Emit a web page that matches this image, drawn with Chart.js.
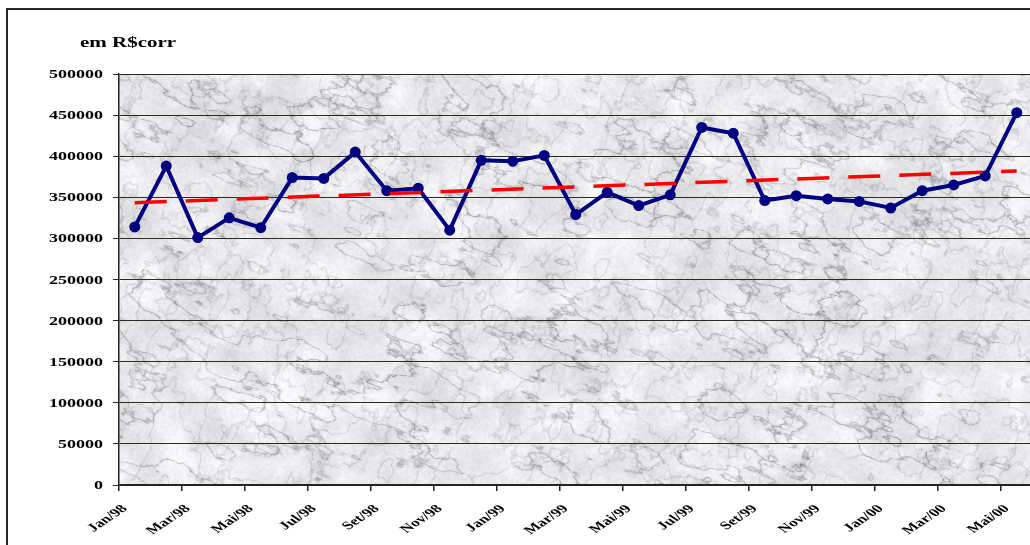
<!DOCTYPE html>
<html>
<head>
<meta charset="utf-8">
<script src="https://cdn.jsdelivr.net/npm/chart.js@4.4.1/dist/chart.umd.min.js"></script>
<style>
  html, body { margin: 0; padding: 0; background: #ffffff; overflow: hidden; }
  #wrap { width: 1038px; height: 545px; position: relative; }
</style>
</head>
<body>
<div id="wrap"><canvas id="c"></canvas></div>
<script>
// Monthly categories, Jan/98 .. Mai/00
const months = [
  'Jan/98','Fev/98','Mar/98','Abr/98','Mai/98','Jun/98','Jul/98','Ago/98','Set/98','Out/98','Nov/98','Dez/98',
  'Jan/99','Fev/99','Mar/99','Abr/99','Mai/99','Jun/99','Jul/99','Ago/99','Set/99','Out/99','Nov/99','Dez/99',
  'Jan/00','Fev/00','Mar/00','Abr/00','Mai/00'
];
// Monthly values, em R$ correntes
const valores = [
  314000, 388000, 301000, 325000, 313000, 374000, 373000, 405000, 358000, 361000, 310000, 395000,
  394000, 401000, 329000, 356000, 340000, 353000, 435000, 428000, 346000, 352000, 348000, 345000,
  337000, 358000, 365000, 376000, 453000
];
// Linear trend, value at first and last month
const tendencia = [343400, 382000];
// Value axis
const yTicks = [0, 50000, 100000, 150000, 200000, 250000, 300000, 350000, 400000, 450000, 500000];
const titulo = 'em R$corr';

const FONT = '"Liberation Serif", "Times New Roman", serif';
const STRETCH = 1.5;

// Deterministic marble texture for the plot background
function makeMarble(w, h) {
  function rng(a) {
    return function () {
      a |= 0; a = a + 0x6D2B79F5 | 0;
      let t = Math.imul(a ^ a >>> 15, 1 | a);
      t = t + Math.imul(t ^ t >>> 7, 61 | t) ^ t;
      return ((t ^ t >>> 14) >>> 0) / 4294967296;
    };
  }
  const r = rng(1998);
  const N = 256;
  const lat = new Float32Array(N * N);
  for (let i = 0; i < N * N; i++) lat[i] = r();
  const sm = t => t * t * (3 - 2 * t);
  function noise(x, y) {
    const xi = Math.floor(x), yi = Math.floor(y);
    const xf = sm(x - xi), yf = sm(y - yi);
    const x0 = ((xi % N) + N) % N, y0 = ((yi % N) + N) % N;
    const x1 = (x0 + 1) % N, y1 = (y0 + 1) % N;
    const a = lat[y0 * N + x0], b = lat[y0 * N + x1];
    const c = lat[y1 * N + x0], d = lat[y1 * N + x1];
    return (a + (b - a) * xf) * (1 - yf) + (c + (d - c) * xf) * yf;
  }
  function fbm(x, y, oct) {
    let s = 0, amp = 0.5, f = 1, tot = 0;
    for (let o = 0; o < oct; o++) {
      s += amp * noise(x * f, y * f); tot += amp;
      amp *= 0.5; f *= 2;
    }
    return s / tot;
  }
  const ca = Math.cos(0.4), sa = Math.sin(0.4);
  const cv = document.createElement('canvas');
  cv.width = w; cv.height = h;
  const cx = cv.getContext('2d');
  const img = cx.createImageData(w, h);
  const d = img.data;
  for (let y = 0; y < h; y++) {
    for (let x = 0; x < w; x++) {
      const u = x * ca + y * sa, v = -x * sa + y * ca;
      const cloud = fbm(x / 28, y / 28, 5);
      const t = fbm(x / 60 + 13, y / 60 + 7, 4);
      const st = fbm(u / 40, v / 18, 5);
      const vein = Math.pow(1 - Math.abs(Math.sin(st * 7 + t * 4)), 7);
      const st2 = fbm(u / 20 + 90, v / 26 + 40, 4);
      const vein2 = Math.pow(1 - Math.abs(Math.sin(st2 * 6)), 9);
      const fine = fbm(x / 2.5, y / 2.5, 2);
      let val = 234 + (cloud - 0.5) * 46 - vein * 58 * (0.4 + t) - vein2 * 30
                - (fine - 0.5) * 18;
      val = Math.max(145, Math.min(250, val));
      const i = (y * w + x) * 4;
      d[i] = val; d[i + 1] = val; d[i + 2] = Math.min(255, val + 3); d[i + 3] = 255;
    }
  }
  cx.putImageData(img, 0, 0);
  return cv;
}

let marble = null;

const decor = {
  id: 'decor',
  beforeDraw(chart) {
    const { ctx, chartArea: a } = chart;
    ctx.save();
    ctx.fillStyle = '#ffffff';
    ctx.fillRect(0, 0, chart.width, chart.height);
    // outer frame
    ctx.strokeStyle = '#2a2a2a';
    ctx.lineWidth = 2;
    ctx.strokeRect(7, 9, chart.width + 20, chart.height + 20);
    // plot background
    const w = Math.ceil(a.right - a.left), h = Math.ceil(a.bottom - a.top);
    if (!marble || marble.width !== w || marble.height !== h) {
      const raw = makeMarble(w, h);
      marble = document.createElement('canvas');
      marble.width = w; marble.height = h;
      const mc = marble.getContext('2d');
      mc.filter = 'blur(0.7px)';
      mc.drawImage(raw, 0, 0);
    }
    ctx.drawImage(marble, a.left, a.top);
    ctx.restore();
  },
  afterDraw(chart) {
    const { ctx } = chart;
    const ys = chart.scales.y, xs = chart.scales.x;
    ctx.save();
    ctx.fillStyle = '#000000';
    // title
    ctx.font = 'bold 14px ' + FONT;
    ctx.textAlign = 'left';
    ctx.textBaseline = 'alphabetic';
    ctx.translate(80, 47);
    ctx.scale(STRETCH, 1);
    ctx.fillText(titulo, 0, 0);
    ctx.restore();

    // value labels
    ctx.save();
    ctx.fillStyle = '#000000';
    ctx.font = 'bold 12px ' + FONT;
    ctx.textAlign = 'right';
    ctx.textBaseline = 'middle';
    ys.ticks.forEach(t => {
      const py = ys.getPixelForValue(t.value);
      ctx.save();
      ctx.translate(103, py + 1);
      ctx.scale(STRETCH, 1);
      ctx.fillText(String(t.value), 0, 0);
      ctx.restore();
    });
    ctx.restore();

    // month labels
    ctx.save();
    ctx.fillStyle = '#000000';
    ctx.font = 'bold 11.5px ' + FONT;
    ctx.textAlign = 'right';
    ctx.textBaseline = 'middle';
    xs.ticks.forEach(t => {
      const px = xs.getPixelForValue(t.value);
      ctx.save();
      ctx.translate(px + 6, 507);
      ctx.scale(STRETCH, 1);
      ctx.rotate(-Math.PI / 4);
      ctx.fillText(months[t.value], 0, 0);
      ctx.restore();
    });
    ctx.restore();
  }
};

const serie = valores.map((v, i) => ({ x: i + 0.5, y: v }));
const linhaTendencia = [
  { x: 0.5, y: tendencia[0] },
  { x: months.length - 0.5, y: tendencia[1] }
];

new Chart(document.getElementById('c'), {
  type: 'line',
  data: {
    datasets: [
      {
        label: 'Tendência',
        data: linhaTendencia,
        borderColor: '#ff0000',
        borderWidth: 3.5,
        borderDash: [32, 19],
        pointRadius: 0,
        fill: false,
        order: 0
      },
      {
        label: titulo,
        data: serie,
        borderColor: '#000080',
        backgroundColor: '#000080',
        borderWidth: 4,
        pointRadius: 5.5,
        pointBackgroundColor: '#000080',
        pointBorderColor: '#000080',
        pointBorderWidth: 0,
        tension: 0,
        fill: false,
        order: 1
      }
    ]
  },
  options: {
    responsive: true,
    maintainAspectRatio: false,
    animation: false,
    devicePixelRatio: 1,
    layout: { padding: { top: 74, left: 0, right: 0, bottom: 0 } },
    plugins: { legend: { display: false }, tooltip: { enabled: false }, title: { display: false } },
    scales: {
      x: {
        type: 'linear',
        min: 0,
        max: months.length,
        afterFit(s) { s.height = 60; },
        ticks: { display: false, stepSize: 2, includeBounds: false },
        afterBuildTicks(s) {
          s.ticks = months.map((m, i) => ({ value: i })).filter(t => t.value % 2 === 0);
        },
        grid: { drawOnChartArea: false, drawTicks: true, tickLength: 6, color: '#222222', lineWidth: 1.5 },
        border: { display: true, color: '#222222', width: 1.5 }
      },
      y: {
        min: 0,
        max: 500000,
        afterFit(s) { s.width = 119; },
        afterBuildTicks(s) { s.ticks = yTicks.map(v => ({ value: v })); },
        ticks: { display: false, stepSize: 50000 },
        grid: { color: '#2a2a2a', lineWidth: 1, drawTicks: true, tickLength: 6 },
        border: { display: true, color: '#222222', width: 1.5 }
      }
    }
  },
  plugins: [decor]
});
</script>
</body>
</html>
